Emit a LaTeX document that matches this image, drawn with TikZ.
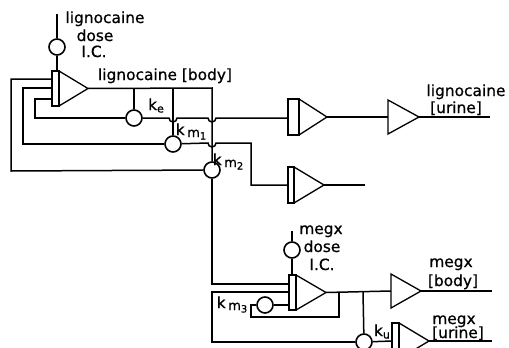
\documentclass[tikz,border=0pt]{standalone}
\usepackage{fontspec}
\setmainfont{DejaVu Sans}
\newfontfamily\lblfont{DejaVu Sans}[FakeBold=0.7]
\newcommand{\amp}[6]{% name, x, ytop, ybottom, rect width, tip x
  \coordinate (#1in) at (#2,{(#3+#4)/2});
  \coordinate (#1top) at ({#2+#5/2},#3);
  \coordinate (#1tip) at (#6,{(#3+#4)/2});
  \draw[ampline] (#2,#3) rectangle ({#2+#5},#4);
  \draw[ampline] ({#2+#5},#3) -- (#1tip) -- ({#2+#5},#4);
}
\newcommand{\kmsub}[1]{k\,\raisebox{-2pt}{\fontsize{13}{14}\selectfont m\raisebox{-2.5pt}{\fontsize{10}{11}\selectfont #1}}}
\newcommand{\ksub}[1]{k\raisebox{-2.5pt}{\fontsize{11}{12}\selectfont #1}}
\tikzset{
  wire/.style={line width=1.5pt,line join=miter},
  ampline/.style={line width=1.3pt,line join=miter},
  valve/.style={circle,draw,line width=1.6pt,fill=white,minimum size=16pt,inner sep=0pt},
  lbl/.style={inner sep=0pt,font=\lblfont\fontsize{15.4}{17}\selectfont,anchor=base}
}
\begin{document}
\begin{tikzpicture}[x=1pt,y=-1pt]
\useasboundingbox (0,0) rectangle (509,348);
% integrators and gains
\amp{A}{52}{71}{106}{7}{88}
\amp{B}{288}{99}{135}{11}{327}
\amp{C}{288}{167}{203}{6}{324}
\amp{D}{289}{275}{310}{7}{326}
\begin{scope}
\clip (0,0) rectangle (509,348);
\amp{H}{392}{323}{359}{7}{429}
\node[valve] (ku) at (364,342) {};
\end{scope}
\draw[ampline] (388,100) -- (388,134) -- (419,117) -- cycle;
\draw[ampline] (391,274) -- (391,308) -- (421,291) -- cycle;
\coordinate (E) at (388,117);
\coordinate (Etip) at (419,117);
\coordinate (F) at (391,291);
\coordinate (Ftip) at (421,291);
% valves
\node[valve] (vdose) at (57,47) {};
\node[valve] (ke) at (134,118) {};
\node[valve] (km1) at (173,144) {};
\node[valve] (km2) at (212,170) {};
\node[valve] (vmegx) at (292,250) {};
\node[valve] (km3) at (265,305) {};
% free ends
\coordinate (d0) at (57,14);
\coordinate (m0) at (292,231);
\coordinate (o1) at (490,117);
\coordinate (o2) at (365,185);
\coordinate (o3) at (492,291);
\coordinate (o4) at (492,341);
% doses
\draw[wire] (d0) -- (vdose);
\draw[wire] (vdose) -- (57,71);
\draw[wire] (m0) -- (vmegx);
\draw[wire] (vmegx) -- (292,275);
% lignocaine body
\draw[wire] (Atip) -- (212,88) -- (km2);
\draw[wire] (134,88) -- (ke);
\draw[wire] (173,88) -- (km1);
% ke path with bumps
\draw[wire] (52,99) -- (35,99) -- (35,118) -- (ke);
\draw[wire] (ke) -- (169,118) arc[start angle=180,end angle=0,radius=4] -- (208,118) arc[start angle=180,end angle=0,radius=4] -- (288,118);
% km1
\draw[wire] (52,88) -- (23,88) -- (23,144) -- (km1);
\draw[wire] (km1) -- (208,143) arc[start angle=180,end angle=0,radius=4] -- (251,143) -- (251,185) -- (Cin);
% km2
\draw[wire] (52,79) -- (11,79) -- (11,171) -- (km2);
\draw[wire] (km2) -- (212,284) -- (289,284);
% between gains
\draw[wire] (Btip) -- (E);
\draw[wire] (Etip) -- (o1);
\draw[wire] (Ctip) -- (o2);
% megx
\draw[wire] (Dtip) -- (F);
\draw[wire] (Ftip) -- (o3);
\draw[wire] (339,292) -- (339,317) -- (251,317) -- (251,305) -- (km3);
\draw[wire] (km3) -- (289,305);
\draw[wire] (363,292) -- (ku);
\draw[wire] (ku) -- (212,342) -- (212,292) -- (289,292);
\draw[wire] (ku) -- (392,341);
\draw[wire] (Htip) -- (o4);
% labels
\node[lbl] (t1a) at (105,23) {lignocaine};
\node[lbl] (t1b) at (95,41) {dose};
\node[lbl] (t1c) at (94,57) {I.C.};
\node[lbl] (t2) at (165,80) {lignocaine [body]};
\node[lbl] (t3a) at (466,96) {lignocaine};
\node[lbl] (t3b) at (456,113) {[urine]};
\node[lbl] (t4) at (156,110) {\ksub{e}};
\node[lbl] (t5) at (191,135) {\kmsub{1}};
\node[lbl] (t6) at (228,165) {\kmsub{2}};
\node[lbl] (t7a) at (321,234) {megx};
\node[lbl] (t7b) at (322,252) {dose};
\node[lbl] (t7c) at (322,270) {I.C.};
\node[lbl] (t8a) at (451,267) {megx};
\node[lbl] (t8b) at (453,286) {[body]};
\node[lbl] (t9a) at (454,324) {megx};
\node[lbl] (t9b) at (458,338) {[urine]};
\node[lbl] (t10) at (232,308) {\kmsub{3}};
\node[lbl] (t11) at (382,336) {\ksub{u}};
\end{tikzpicture}
\end{document}
